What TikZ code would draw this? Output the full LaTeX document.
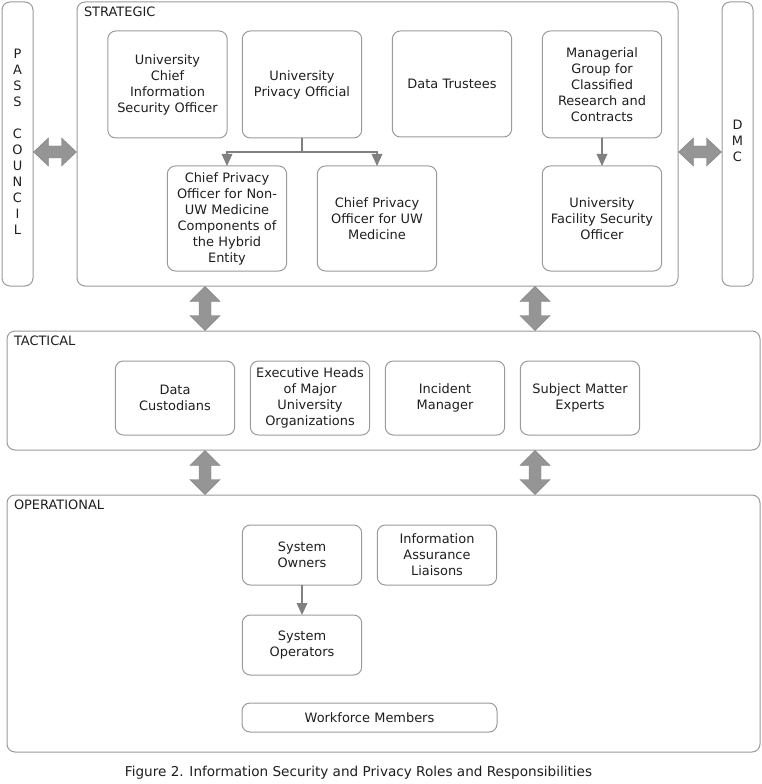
\documentclass[tikz,border=0pt]{standalone}
\usepackage{fontspec}
\setmainfont{DejaVu Sans}
\usetikzlibrary{arrows.meta}
\definecolor{boxline}{HTML}{9A9A9A}
\definecolor{conline}{HTML}{808080}
\definecolor{dblfill}{HTML}{959595}
\definecolor{txt}{HTML}{1E1E1E}
\begin{document}
\begin{tikzpicture}[x=0.75pt,y=-0.75pt,
  font=\fontsize{9.7pt}{12pt}\selectfont, text=txt,
  every node/.style={inner sep=0pt, outer sep=0pt},
  box/.style={draw=boxline, line width=0.75pt, rounded corners=6pt, align=center,
    minimum width=89.5pt, text width=86pt},
  bigbox/.style={draw=boxline, line width=0.75pt, rounded corners=6pt},
  conn/.style={draw=conline, line width=0.9pt, -{Triangle[length=9pt,width=8pt]}},
  dbl/.style={draw=dblfill!85!black, line width=0.3pt, fill=dblfill},
  lbl/.style={anchor=west}]
\useasboundingbox (0,0) rectangle (761,784);

% containers
\node[bigbox, minimum width=23.25pt, minimum height=213pt] (pass) at (17.5,144) {};
\node[align=center] (passlbl) at (17.5,142) {P\\A\\S\\S\\[12pt]C\\O\\U\\N\\C\\I\\L};
\node[bigbox, minimum width=450.75pt, minimum height=213pt] (strat) at (377.5,144) {};
\node[bigbox, minimum width=23.25pt, minimum height=213pt] (dmc) at (737.5,144) {};
\node[align=center] (dmclbl) at (737.5,141) {D\\M\\C};
\node[bigbox, minimum width=564.75pt, minimum height=89.25pt] (tact) at (383.5,390.5) {};
\node[bigbox, minimum width=564.75pt, minimum height=192.75pt] (oper) at (383.5,623.5) {};

\node[lbl] (stratlbl) at (84,12) {STRATEGIC};
\node[lbl] (tactlbl) at (14,341) {TACTICAL};
\node[lbl] (operlbl) at (14,505) {OPERATIONAL};

% strategic boxes
\node[box, minimum height=80.25pt] (ciso) at (167.5,84.5) {University\\Chief\\Information\\Security Officer};
\node[box, minimum height=80.25pt] (upo) at (302,84.5) {University\\Privacy Official};
\node[box, minimum height=79.5pt] (dt) at (452,84) {Data Trustees};
\node[box, minimum height=80.25pt] (mg) at (602,84.5) {Managerial\\Group for\\Classified\\Research and\\Contracts};
\node[box, minimum height=78.75pt] (cpo1) at (227,218.5) {Chief Privacy\\Officer for Non-\\UW Medicine\\Components of\\the Hybrid\\Entity};
\node[box, minimum height=78.75pt] (cpo2) at (377,218.5) {Chief Privacy\\Officer for UW\\Medicine};
\node[box, minimum height=78.75pt] (ufso) at (602,218.5) {University\\Facility Security\\Officer};

% tactical boxes
\node[box, minimum height=55.5pt] (dc) at (175,398) {Data\\Custodians};
\node[box, minimum height=55.5pt] (eh) at (310,398) {Executive Heads\\of Major\\University\\Organizations};
\node[box, minimum height=55.5pt] (im) at (445,398) {Incident\\Manager};
\node[box, minimum height=55.5pt] (sme) at (580,398) {Subject Matter\\Experts};

% operational boxes
\node[box, minimum height=45pt] (so) at (302,555) {System\\Owners};
\node[box, minimum height=45pt] (ial) at (437,555) {Information\\Assurance\\Liaisons};
\node[box, minimum height=45pt] (sop) at (302,645) {System\\Operators};
\node[box, minimum height=21.75pt, minimum width=191.25pt, text width=180pt] (wm) at (369.5,717.5) {Workforce Members};

% caption
\node[font=\fontsize{10.2pt}{12pt}\selectfont] (cap) at (358.5,773) {Figure 2. Information Security and Privacy Roles and Responsibilities};

% connectors
\draw[conn] (upo.south) -- ++(0,14) -| (cpo1.north);
\draw[conn] (upo.south) -- ++(0,14) -| (cpo2.north);
\draw[conn] (mg.south) -- (ufso.north);
\draw[conn] (so.south) -- (sop.north);

% double arrows
\def\dblh#1#2#3{% x1 x2 y
  \fill[dbl] (#1,#3) -- (#1+15,#3-14) -- (#1+15,#3-6) -- (#2-15,#3-6) -- (#2-15,#3-14) -- (#2,#3)
    -- (#2-15,#3+14) -- (#2-15,#3+6) -- (#1+15,#3+6) -- (#1+15,#3+14) -- cycle;}
\def\dblv#1#2#3{% y1 y2 x
  \fill[dbl] (#3,#1) -- (#3+15,#1+15) -- (#3+6,#1+15) -- (#3+6,#2-15) -- (#3+15,#2-15) -- (#3,#2)
    -- (#3-15,#2-15) -- (#3-6,#2-15) -- (#3-6,#1+15) -- (#3-15,#1+15) -- cycle;}
\dblh{33.5}{76.5}{152}
\dblh{678.5}{721.5}{152}
\dblv{286.5}{330.5}{205}
\dblv{286.5}{330.5}{535}
\dblv{450.5}{494.5}{205}
\dblv{450.5}{494.5}{535}
\end{tikzpicture}
\end{document}
